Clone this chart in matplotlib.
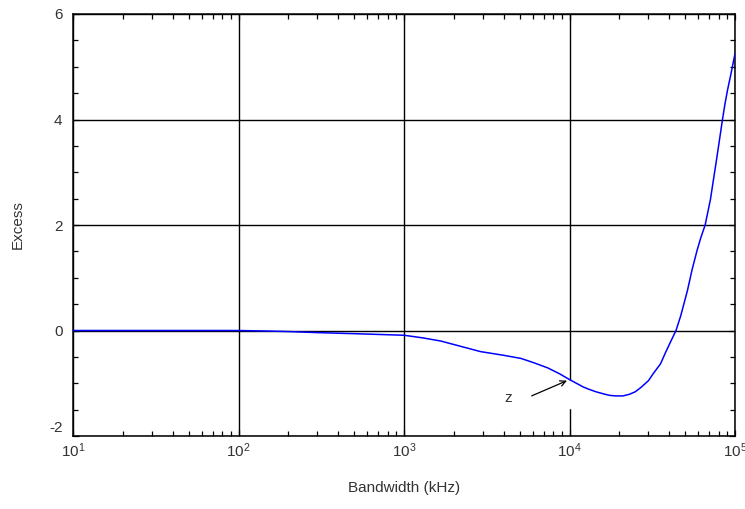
import matplotlib
matplotlib.use("Agg")
import matplotlib.pyplot as plt
from matplotlib.ticker import MultipleLocator, LogLocator, NullFormatter, FuncFormatter

plt.rcParams['font.family'] = ['Liberation Sans', 'DejaVu Sans']
plt.rcParams['axes.unicode_minus'] = False

bw = [10, 100, 150, 200, 300, 500, 1000, 1300, 1670, 2200, 2900, 4000,
      5100, 6200, 7400, 8700, 10000, 11000, 12100, 13000, 14400, 16000,
      17500, 19000, 21000, 23000, 25000, 27000, 30000, 32000, 35500, 38000,
      41000, 44000, 47000, 51600, 55000, 59000, 62000, 66000, 71000, 74000,
      77000, 80000, 84000, 87000, 90000, 95000, 100000]
excess = [0, 0, -0.01, -0.02, -0.04, -0.06, -0.09, -0.14, -0.2, -0.3, -0.4,
          -0.47, -0.53, -0.62, -0.71, -0.82, -0.93, -1.0, -1.07, -1.11, -1.16,
          -1.2, -1.23, -1.24, -1.24, -1.21, -1.16, -1.08, -0.95, -0.82, -0.63,
          -0.42, -0.2, 0, 0.28, 0.76, 1.15, 1.52, 1.75, 2.0, 2.48, 2.85,
          3.2, 3.55, 4.0, 4.3, 4.55, 4.9, 5.25]

txtc = '#333333'
ymin, ymax = -2, 6

fig = plt.figure(figsize=(7.45, 5.09), dpi=100)
ax = fig.add_axes([0.098, 0.1434, 0.8886, 0.8291])

ax.set_xscale('log')
ax.set_xlim(10, 1e5)
ax.set_ylim(ymin, ymax)
ax.yaxis.set_major_locator(MultipleLocator(2))
ax.yaxis.set_minor_locator(MultipleLocator(0.5))
# lowest y label is drawn separately, a little higher (clear of 10^1)
ax.yaxis.set_major_formatter(FuncFormatter(lambda v, p: '' if v <= ymin else '%g' % v))
ax.xaxis.set_major_locator(LogLocator(base=10, numticks=10))
ax.xaxis.set_minor_locator(LogLocator(base=10, subs=range(2, 10), numticks=20))
ax.xaxis.set_minor_formatter(NullFormatter())

ax.grid(True, which='major', color='black', lw=1.0, zorder=0.5)
ax.set_axisbelow(True)

# gap in the gridline below the marked point
ax.plot([1e4, 1e4], [-0.97, -1.45], color='white', lw=2.5, zorder=1)

ax.plot(bw, excess, color='#0000ff', lw=1.1, zorder=3)

ax.annotate('', xy=(1e4, -0.93), xytext=(5700, -1.26),
            arrowprops=dict(arrowstyle='->', color='black', lw=0.9), zorder=4)
ax.text(4270, -1.28, 'z', fontsize=11, color=txtc, ha='center', va='center')

ax.annotate('%g' % ymin, xy=(0, ymin), xycoords=('axes fraction', 'data'),
            xytext=(-7.5, 1), textcoords='offset points',
            ha='right', va='bottom', fontsize=11, color=txtc)

ax.tick_params(which='both', direction='in', top=True, right=True,
               colors='black', labelcolor=txtc, labelsize=11, width=0.9)
ax.tick_params(which='major', length=4)
ax.tick_params(which='minor', length=3.5)
ax.tick_params(axis='x', pad=4)
ax.tick_params(axis='y', pad=7.5)
for s in ax.spines.values():
    s.set_linewidth(1.1)

ax.set_xlabel('Bandwidth (kHz)', fontsize=11, color=txtc, labelpad=15)
ax.set_ylabel('Excess', fontsize=11, color=txtc, labelpad=21)

fig.savefig('out.png', dpi=100)
